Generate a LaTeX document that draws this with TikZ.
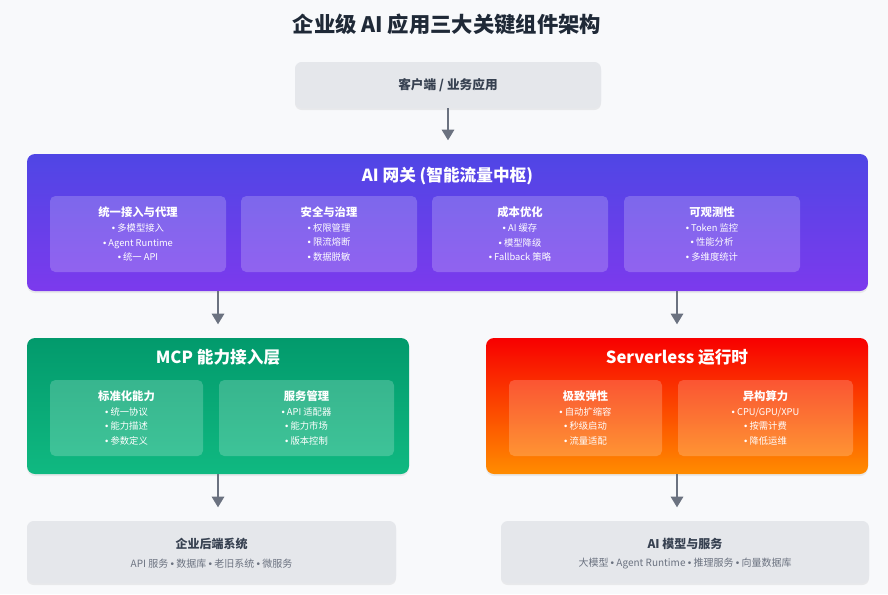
\documentclass[tikz,border=0pt]{standalone}
\usepackage{fontspec}
\setmainfont{Noto Sans CJK SC}
\newfontfamily\bulletfont{Liberation Sans}
\usepackage{tikz}
\usetikzlibrary{arrows.meta, positioning, calc, shadows}
\definecolor{pagebg}{HTML}{F8F9FB}
\definecolor{boxgray}{HTML}{E5E7EB}
\definecolor{inkdark}{HTML}{1F2937}
\definecolor{inkmid}{HTML}{374151}
\definecolor{inklight}{HTML}{6B7280}
\definecolor{gwtop}{HTML}{4F46E5}
\definecolor{gwbot}{HTML}{7C3AED}
\definecolor{mcptop}{HTML}{029A6C}
\definecolor{mcpbot}{HTML}{10B981}
\definecolor{svtop}{HTML}{F80000}
\definecolor{svbot}{HTML}{FF8C00}
\newcommand{\subheadfont}{\fontsize{8.5}{10}\selectfont\bfseries}
\newcommand{\dotmark}{{\bulletfont •}}

\begin{document}
\begin{tikzpicture}[x=0.75pt,y=-0.75pt,
  softshadow/.style={drop shadow={opacity=0.13,shadow xshift=0pt,shadow yshift=-1.5pt}},
  graybox/.style={rounded corners=5pt,fill=boxgray,softshadow,inner sep=0pt},
  layer/.style={rounded corners=6pt,softshadow,inner sep=0pt},
  subbox/.style={rounded corners=4pt,fill=white,fill opacity=0.2,text opacity=1,
    inner sep=0pt,minimum height=57pt,text=white,align=center,
    font=\fontsize{7}{11.2}\selectfont},
  layertitle/.style={text=white,font=\fontsize{12.5}{14}\selectfont\bfseries},
  arr/.style={-{Triangle[width=9pt,length=8pt]},line width=2pt,draw=inklight}]
  \useasboundingbox[fill=pagebg] (0,0) rectangle (888,594);

  % title
  \node[text=inkdark,font=\fontsize{16}{18}\selectfont\bfseries] (title) at (447,24)
    {企业级 AI 应用三大关键组件架构};

  % client
  \node[graybox,minimum width=229.5pt,minimum height=34.5pt,text=inkmid,
    font=\fontsize{9.5}{11}\selectfont\bfseries] (client) at (448,85)
    {客户端 / 业务应用};

  % AI gateway
  \node[layer,top color=gwtop,bottom color=gwbot,minimum width=630.75pt,
    minimum height=102.75pt] (gw) at (447.5,222.5) {};
  \node[layertitle] (gwtitle) at (447.5,176) {AI 网关 (智能流量中枢)};
  \node[subbox,minimum width=132pt] (gw1) at (138,234)
    {{\subheadfont 统一接入与代理}\\\dotmark\ 多模型接入\\\dotmark\ Agent Runtime\\\dotmark\ 统一 API};
  \node[subbox,minimum width=132pt] (gw2) at (329,234)
    {{\subheadfont 安全与治理}\\\dotmark\ 权限管理\\\dotmark\ 限流熔断\\\dotmark\ 数据脱敏};
  \node[subbox,minimum width=132pt] (gw3) at (520,234)
    {{\subheadfont 成本优化}\\\dotmark\ AI 缓存\\\dotmark\ 模型降级\\\dotmark\ Fallback 策略};
  \node[subbox,minimum width=132pt] (gw4) at (712,234)
    {{\subheadfont 可观测性}\\\dotmark\ Token 监控\\\dotmark\ 性能分析\\\dotmark\ 多维度统计};

  % MCP layer
  \node[layer,top color=mcptop,bottom color=mcpbot,minimum width=286.5pt,
    minimum height=102pt] (mcp) at (218,406) {};
  \node[layertitle] (mcptitle) at (218,357) {MCP 能力接入层};
  \node[subbox,minimum width=114.75pt] (mcp1) at (126.5,418)
    {{\subheadfont 标准化能力}\\\dotmark\ 统一协议\\\dotmark\ 能力描述\\\dotmark\ 参数定义};
  \node[subbox,minimum width=131.25pt] (mcp2) at (306.5,418)
    {{\subheadfont 服务管理}\\\dotmark\ API 适配器\\\dotmark\ 能力市场\\\dotmark\ 版本控制};

  % Serverless layer
  \node[layer,top color=svtop,bottom color=svbot,minimum width=286.5pt,
    minimum height=102pt] (sv) at (677,406) {};
  \node[layertitle] (svtitle) at (677,357) {Serverless 运行时};
  \node[subbox,minimum width=114.75pt] (sv1) at (585.5,418)
    {{\subheadfont 极致弹性}\\\dotmark\ 自动扩缩容\\\dotmark\ 秒级启动\\\dotmark\ 流量适配};
  \node[subbox,minimum width=131.25pt] (sv2) at (765.5,418)
    {{\subheadfont 异构算力}\\\dotmark\ CPU/GPU/XPU\\\dotmark\ 按需计费\\\dotmark\ 降低运维};

  % back ends
  \node[graybox,minimum width=276.75pt,minimum height=46.5pt] (backend) at (211.5,552) {};
  \node[text=inkmid,font=\fontsize{9}{11}\selectfont\bfseries] (backendtitle) at (211.5,544)
    {企业后端系统};
  \node[text=inklight,font=\fontsize{7.5}{9}\selectfont] (backendsub) at (211.5,564)
    {API 服务 \dotmark\ 数据库 \dotmark\ 老旧系统 \dotmark\ 微服务};
  \node[graybox,minimum width=276pt,minimum height=46.5pt] (models) at (685,552) {};
  \node[text=inkmid,font=\fontsize{9}{11}\selectfont\bfseries] (modelstitle) at (685,544)
    {AI 模型与服务};
  \node[text=inklight,font=\fontsize{7.5}{9}\selectfont] (modelssub) at (685,564)
    {大模型 \dotmark\ Agent Runtime \dotmark\ 推理服务 \dotmark\ 向量数据库};

  % arrows
  \draw[arr,shorten >=10pt] (client.south) -- (client.south |- gw.north);
  \draw[arr,shorten >=10pt] (gw.south -| mcp) -- (mcp.north);
  \draw[arr,shorten >=10pt] (gw.south -| sv) -- (sv.north);
  \draw[arr,shorten >=10pt] (mcp.south) -- (mcp.south |- backend.north);
  \draw[arr,shorten >=10pt] (sv.south) -- (sv.south |- models.north);
\end{tikzpicture}
\end{document}
